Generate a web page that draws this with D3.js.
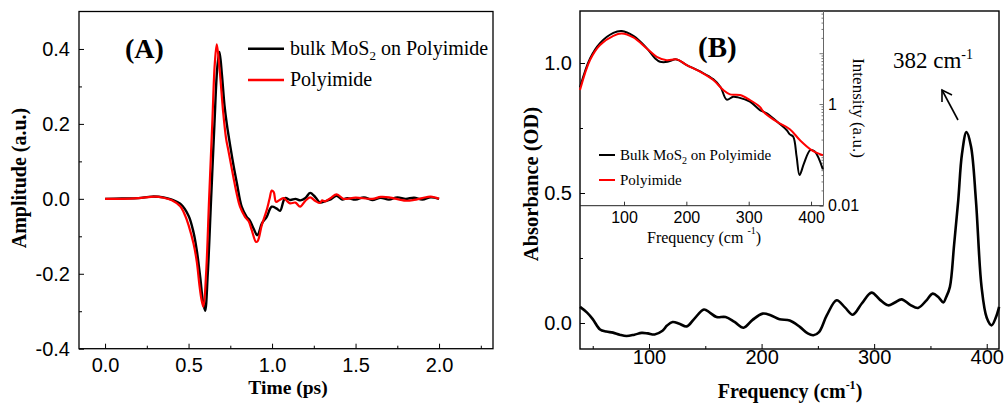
<!DOCTYPE html>
<html><head><meta charset="utf-8">
<script src="https://cdn.jsdelivr.net/npm/d3@7"></script>
<style>
html,body{margin:0;padding:0;background:#fff;}
svg{display:block;}
.tk text{font-family:"Liberation Sans",Arial,sans-serif;}
</style></head>
<body>
<svg id="c" width="1004" height="407"></svg>
<script>
// ---------- Data ----------
// Panel A: THz time-domain waveforms
const timeBlack = [0.0,0.1,0.2,0.28,0.35,0.4,0.45,0.5,0.53,0.55,0.57,0.585,0.599,0.615,0.635,0.655,0.672,0.685,0.70,0.715,0.729,0.75,0.769,0.79,0.818,0.848,0.867,0.89,0.912,0.94,0.968,0.998,1.028,1.048,1.078,1.11,1.14,1.17,1.2,1.228,1.26,1.287,1.32,1.347,1.387,1.42,1.45,1.5,1.55,1.6,1.65,1.7,1.75,1.8,1.85,1.9,1.95,2.0];
const ampBlack  = [0.0,0.001,0.002,0.006,0.004,-0.002,-0.013,-0.045,-0.09,-0.14,-0.21,-0.27,-0.299,-0.2,0.0,0.2,0.35,0.392,0.33,0.25,0.2,0.14,0.09,0.04,-0.021,-0.048,-0.058,-0.08,-0.097,-0.065,-0.048,-0.021,-0.026,-0.032,0.002,-0.003,0.0,-0.004,0.002,0.016,0.004,-0.01,-0.006,-0.002,0.008,-0.002,0.002,-0.002,0.004,-0.003,0.003,-0.002,0.004,0.0,0.003,-0.002,0.004,0.0];
const timeRed = [0.0,0.1,0.2,0.3,0.35,0.4,0.45,0.48,0.5,0.53,0.55,0.565,0.578,0.589,0.605,0.623,0.642,0.657,0.669,0.685,0.708,0.725,0.738,0.768,0.79,0.808,0.838,0.86,0.878,0.904,0.915,0.938,0.968,0.985,0.998,1.01,1.024,1.045,1.07,1.09,1.108,1.14,1.168,1.2,1.228,1.26,1.287,1.3,1.317,1.35,1.387,1.427,1.45,1.5,1.6,1.65,1.7,1.8,1.85,1.9,1.95,2.0];
const ampRed  = [0.0,0.0,0.002,0.006,0.003,-0.004,-0.02,-0.045,-0.07,-0.12,-0.17,-0.23,-0.27,-0.288,-0.2,0.0,0.2,0.36,0.412,0.35,0.228,0.16,0.13,0.059,0.01,-0.021,-0.048,-0.06,-0.083,-0.115,-0.112,-0.071,-0.03,0.0,0.022,0.018,-0.008,-0.003,0.002,-0.006,-0.012,-0.01,-0.021,-0.005,0.004,-0.006,-0.011,-0.004,-0.007,0.002,0.012,0.0,0.0,0.003,0.0,0.005,0.004,-0.005,-0.003,0.002,0.006,0.0];
const timeTicks = [0.0,0.5,1.0,1.5,2.0];
const timeMinor = [0.25,0.75,1.25,1.75,2.25];
const ampTicks = [-0.4,-0.2,0.0,0.2,0.4];
const ampMinor = [-0.3,-0.1,0.1,0.3];

// Panel B: absorbance of bulk MoS2
const freqAbs = [38.7,45,50,56.5,62,68,74,80,87,93.5,99,105,112,116,121,127,133.5,140,148.8,154,160,168,176,184,192,201,208,216,225,234,241,246,251,258,266.7,274,281,289,297.7,305,312.5,318,324.4,332,339,346,352,357,361.4,364,367.3,371,374.7,378,382,386,390.4,395.4,400,404.3,408,411];
const absorb  = [0.062,0.04,0.015,-0.025,-0.033,-0.037,-0.045,-0.05,-0.045,-0.038,-0.04,-0.044,-0.03,-0.01,0.004,-0.003,-0.013,0.015,0.052,0.04,0.023,0.023,0.004,-0.018,0.012,0.036,0.03,0.014,0.01,-0.015,-0.04,-0.047,-0.035,0.03,0.0875,0.06,0.032,0.075,0.117,0.09,0.068,0.078,0.091,0.07,0.058,0.085,0.113,0.1,0.079,0.1,0.139,0.3,0.472,0.65,0.734,0.68,0.472,0.139,0.02,-0.009,0.02,0.062];
const freqTicks = [100,200,300,400];
const freqMinor = [50,150,250,350];
const absTicks = [0.0,0.5,1.0];
const absMinor = [0.25,0.75];

// Inset: spectra intensity (log scale)
const freqInBlack = [29.4,45.5,61.5,82.9,96.3,115,136.4,150,157.8,170,184,200.6,222,243,255,264.7,275,283,302,318,329,350,360.8,366,371.5,376.9,381.6,388.7,398.8,406,419];
const intBlack    = [2.14,7.9,15.8,25.1,27.3,21.9,12.6,7.9,6.8,6.76,7.55,5.85,4.37,3.09,2.14,1.22,1.39,1.35,1.11,0.76,0.656,0.405,0.308,0.253,0.228,0.092,0.040,0.068,0.124,0.116,0.052];
const freqInRed = [29.4,45.5,61.5,82.9,96.3,115,136.4,152.5,168.5,184.6,200.6,222,243.3,259.3,270,286,302,318,323.6,345,366,382,401,419];
const intRed    = [1.88,7.33,14.5,22.0,24.5,20.4,12.4,8.5,7.3,7.55,5.85,4.33,2.96,1.88,1.55,1.50,1.20,0.88,0.706,0.449,0.32,0.196,0.124,0.098];
const inFreqTicks = [100,200,300,400];
const inIntTicks = [0.01,0.1,1,10];
const inIntLabels = {"0.01":"0.01","1":"1"};

// ---------- Drawing ----------
const svg = d3.select("#c");
const serif = '"Liberation Serif","Times New Roman",serif';
const sans = '"Liberation Sans",Arial,sans-serif';

function zip(a,b){return a.map((v,i)=>[v,b[i]]);}

// ===== Panel A =====
const xA = d3.scaleLinear().domain([-0.156,2.323]).range([79,493]);
const yA = d3.scaleLinear().domain([-0.4,0.5]).range([348.7,11.5]);

const gA = svg.append("g");
gA.append("g").attr("class","tk").attr("transform","translate(0,348.7)")
  .call(d3.axisBottom(xA).tickValues(timeTicks).tickFormat(d3.format(".1f")).tickSizeInner(-5).tickSizeOuter(0).tickPadding(9));
gA.append("g").attr("class","tk").attr("transform","translate(0,348.7)")
  .call(d3.axisBottom(xA).tickValues(timeMinor).tickFormat("").tickSizeInner(-3).tickSizeOuter(0));
gA.append("g").attr("class","tk").attr("transform","translate(79,0)")
  .call(d3.axisLeft(yA).tickValues(ampTicks).tickFormat(d3.format(".1f")).tickSizeInner(-5).tickSizeOuter(0).tickPadding(9));
gA.append("g").attr("class","tk").attr("transform","translate(79,0)")
  .call(d3.axisLeft(yA).tickValues(ampMinor).tickFormat("").tickSizeInner(-3).tickSizeOuter(0));
gA.selectAll(".tk text").attr("font-family",sans).attr("font-size",20).attr("fill","#000").each(function(){
  const t=d3.select(this); t.text(t.text().replace("−","-"));
});
gA.selectAll(".tk path").attr("stroke","none");
gA.selectAll(".tk line").attr("stroke","#000").attr("stroke-width",1);
gA.append("rect").attr("x",79).attr("y",11.5).attr("width",414).attr("height",337.2)
  .attr("fill","none").attr("stroke","#000").attr("stroke-width",1.3);

const lineA = d3.line().x(d=>xA(d[0])).y(d=>yA(d[1])).curve(d3.curveCatmullRom.alpha(0.5));
gA.append("path").attr("d",lineA(zip(timeBlack,ampBlack))).attr("fill","none").attr("stroke","#000").attr("stroke-width",2.4).attr("stroke-linejoin","round");
gA.append("path").attr("d",lineA(zip(timeRed,ampRed))).attr("fill","none").attr("stroke","#ff0000").attr("stroke-width",2.2).attr("stroke-linejoin","round");

// legend A
gA.append("line").attr("x1",248).attr("x2",284).attr("y1",48.7).attr("y2",48.7).attr("stroke","#000").attr("stroke-width",2.4);
gA.append("line").attr("x1",248).attr("x2",284).attr("y1",80).attr("y2",80).attr("stroke","#ff0000").attr("stroke-width",2.4);
const lgA = gA.append("text").attr("x",290).attr("y",55).attr("font-family",serif).attr("font-size",20);
lgA.append("tspan").text("bulk MoS");
lgA.append("tspan").attr("font-size",13).attr("dy",5).text("2");
lgA.append("tspan").attr("dy",-5).text(" on Polyimide");
gA.append("text").attr("x",290).attr("y",86).attr("font-family",serif).attr("font-size",20).text("Polyimide");
gA.append("text").attr("x",125).attr("y",58).attr("font-family",serif).attr("font-weight","bold").attr("font-size",28).text("(A)");

gA.append("text").attr("x",288).attr("y",394).attr("text-anchor","middle").attr("font-family",serif).attr("font-weight","bold").attr("font-size",19.5).text("Time (ps)");
gA.append("text").attr("transform","translate(26,178) rotate(-90)").attr("text-anchor","middle").attr("font-family",serif).attr("font-weight","bold").attr("font-size",20).text("Amplitude (a.u.)");

// ===== Panel B =====
const xB = d3.scaleLinear().domain([38.7,410.9]).range([580,999]);
const yB = d3.scaleLinear().domain([-0.1,1.2]).range([349,11]);
const gB = svg.append("g");
gB.append("g").attr("class","tk").attr("transform","translate(0,349)")
  .call(d3.axisBottom(xB).tickValues(freqTicks).tickFormat(d3.format("d")).tickSizeInner(-5).tickSizeOuter(0).tickPadding(1));
gB.append("g").attr("class","tk").attr("transform","translate(0,349)")
  .call(d3.axisBottom(xB).tickValues(freqMinor).tickFormat("").tickSizeInner(-3).tickSizeOuter(0));
gB.append("g").attr("class","tk").attr("transform","translate(580,0)")
  .call(d3.axisLeft(yB).tickValues(absTicks).tickFormat(d3.format(".1f")).tickSizeInner(-5).tickSizeOuter(0).tickPadding(8));
gB.append("g").attr("class","tk").attr("transform","translate(580,0)")
  .call(d3.axisLeft(yB).tickValues(absMinor).tickFormat("").tickSizeInner(-3).tickSizeOuter(0));
gB.selectAll(".tk text").attr("font-family",sans).attr("font-size",20).attr("fill","#000");
gB.selectAll(".tk path").attr("stroke","none");
gB.selectAll(".tk line").attr("stroke","#000").attr("stroke-width",1);
gB.append("rect").attr("x",580).attr("y",11).attr("width",419).attr("height",338)
  .attr("fill","none").attr("stroke","#000").attr("stroke-width",1.4);

const lineB = d3.line().x(d=>xB(d[0])).y(d=>yB(d[1])).curve(d3.curveCatmullRom.alpha(0.5));
gB.append("path").attr("d",lineB(zip(freqAbs,absorb))).attr("fill","none").attr("stroke","#000").attr("stroke-width",2.6).attr("stroke-linejoin","round");

gB.append("text").attr("x",698).attr("y",57).attr("font-family",serif).attr("font-weight","bold").attr("font-size",29).text("(B)");
const pk = gB.append("text").attr("x",893).attr("y",68).attr("font-family",serif).attr("font-size",23);
pk.append("tspan").text("382 cm");
pk.append("tspan").attr("font-size",14).attr("dy",-9).text("-1");
// arrow
gB.append("line").attr("x1",958).attr("y1",120).attr("x2",942).attr("y2",90).attr("stroke","#000").attr("stroke-width",1.6);
gB.append("path").attr("d","M942,102 L942,90 L952,95").attr("fill","none").attr("stroke","#000").attr("stroke-width",1.6);

const fx = gB.append("text").attr("x",790).attr("y",398).attr("text-anchor","middle").attr("font-family",serif).attr("font-weight","bold").attr("font-size",20);
fx.append("tspan").text("Frequency (cm");
fx.append("tspan").attr("font-size",12).attr("dy",-9).text("-1");
fx.append("tspan").attr("dy",9).text(")");
gB.append("text").attr("transform","translate(537.5,184) rotate(-90)").attr("text-anchor","middle").attr("font-family",serif).attr("font-weight","bold").attr("font-size",20.5).text("Absorbance (OD)");

// ===== Inset =====
const xI = d3.scaleLinear().domain([29.4,420]).range([580,823.5]);
const yI = d3.scaleLog().domain([0.01,67.6]).range([205.7,11]);
const gI = svg.append("g");
gI.append("g").attr("class","tk").attr("transform","translate(0,205.7)")
  .call(d3.axisBottom(xI).tickValues(inFreqTicks).tickFormat(d3.format("d")).tickSizeInner(-4).tickSizeOuter(0).tickPadding(5.5));
const minorLog = [];
[0.01,0.1,1,10].forEach(b=>{for(let k=2;k<=9;k++){const v=b*k; if(v<67.6) minorLog.push(v);}});
gI.append("g").attr("class","tk tkr").attr("transform","translate(823.5,0)")
  .call(d3.axisRight(yI).tickValues(inIntTicks).tickFormat(d=>inIntLabels[String(d)]||"").tickSizeInner(-4).tickSizeOuter(0).tickPadding(4.5));
gI.append("g").attr("class","tk tkr").attr("transform","translate(823.5,0)")
  .call(d3.axisRight(yI).tickValues(minorLog).tickFormat("").tickSizeInner(-2).tickSizeOuter(0));
gI.selectAll(".tk text").attr("font-family",sans).attr("font-size",16).attr("fill","#000");
gI.selectAll(".tk path").attr("stroke","none");
gI.selectAll(".tk line").attr("stroke","#000").attr("stroke-width",0.8);
gI.selectAll(".tkr line").attr("stroke","#555");
gI.append("line").attr("x1",580).attr("x2",823.5).attr("y1",205.7).attr("y2",205.7).attr("stroke","#222").attr("stroke-width",1);
gI.append("line").attr("x1",823.5).attr("x2",823.5).attr("y1",11).attr("y2",205.7).attr("stroke","#666").attr("stroke-width",1);

const lineI = d3.line().x(d=>xI(d[0])).y(d=>yI(d[1])).curve(d3.curveCatmullRom.alpha(0.5));
gI.append("path").attr("d",lineI(zip(freqInBlack,intBlack))).attr("fill","none").attr("stroke","#000").attr("stroke-width",2).attr("stroke-linejoin","round");
gI.append("path").attr("d",lineI(zip(freqInRed,intRed))).attr("fill","none").attr("stroke","#ff0000").attr("stroke-width",2).attr("stroke-linejoin","round");

gI.append("line").attr("x1",599).attr("x2",615).attr("y1",155).attr("y2",155).attr("stroke","#000").attr("stroke-width",2);
gI.append("line").attr("x1",599).attr("x2",615).attr("y1",180).attr("y2",180).attr("stroke","#ff0000").attr("stroke-width",2);
const lgI = gI.append("text").attr("x",620).attr("y",160).attr("font-family",serif).attr("font-size",15);
lgI.append("tspan").text("Bulk MoS");
lgI.append("tspan").attr("font-size",10).attr("dy",4).text("2");
lgI.append("tspan").attr("dy",-4).text(" on Polyimide");
gI.append("text").attr("x",620).attr("y",185).attr("font-family",serif).attr("font-size",15).text("Polyimide");

const fi = gI.append("text").attr("x",647).attr("y",243).attr("font-family",serif).attr("font-size",16);
fi.append("tspan").text("Frequency (cm");
fi.append("tspan").attr("font-size",10).attr("dx",4).attr("dy",-9).text("-1");
fi.append("tspan").attr("dy",9).text(")");
gI.append("text").attr("transform","translate(853,108) rotate(90)").attr("text-anchor","middle").attr("font-family",serif).attr("font-size",17).text("Intensity (a.u.)");
</script>
</body></html>
